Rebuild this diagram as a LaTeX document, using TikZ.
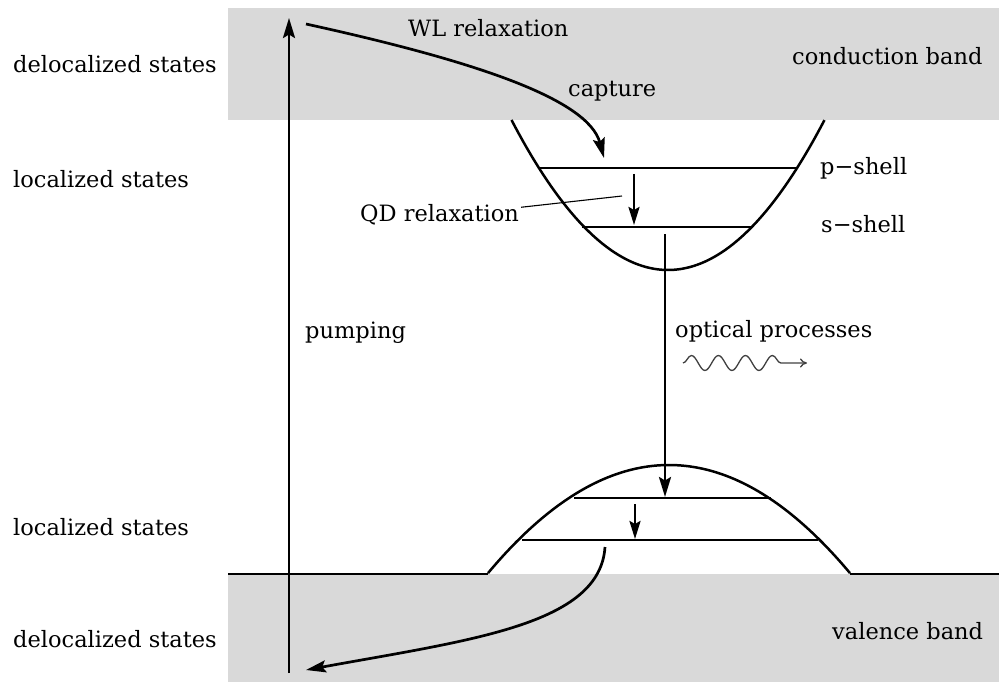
\documentclass[tikz,border=0pt]{standalone}
\usepackage{fontspec}
\setmainfont{DejaVu Serif}
\usetikzlibrary{arrows.meta,decorations.pathmorphing}
\definecolor{bandgray}{RGB}{217,217,217}
\tikzset{
  lbl/.style={anchor=base west,inner sep=0pt,font=\fontsize{22.5}{27}\selectfont},
  level/.style={line width=2.9pt},
  curveline/.style={line width=2.5pt},
  bigarrow/.style={line width=2.7pt,-{Stealth[length=20pt,width=12pt,inset=3.5pt]}},
  smallarrow/.style={line width=2.7pt,-{Stealth[length=18pt,width=11pt,inset=3pt]}},
}
\begin{document}
\begin{tikzpicture}[x=1pt,y=-1pt]
\useasboundingbox (0,0) rectangle (999,682);
% bands
\fill[bandgray] (228,8) rectangle (999,120);
\fill[bandgray] (228,574) rectangle (999,682);
% band edge line with valence dome
\draw[line width=2pt] (228,574) -- (488,574);
\draw[line width=2pt] (850,574) -- (999,574);
\draw[curveline] plot[domain=-1.81:1.81,samples=80] ({669+100*\x},{465+33*\x*\x});
% conduction QD parabola
\draw[curveline] plot[domain=-1.565:1.565,samples=80] ({668+100*\x},{270-61.25*\x*\x});
% levels
\coordinate (pL) at (540,168); \coordinate (pR) at (796,168);
\coordinate (sL) at (582,227); \coordinate (sR) at (752,227);
\coordinate (v1L) at (574,498); \coordinate (v1R) at (771,498);
\coordinate (v2L) at (522,540); \coordinate (v2R) at (818,540);
\draw[level] (pL) -- (pR);
\draw[level] (sL) -- (sR);
\draw[level] (v1L) -- (v1R);
\draw[level] (v2L) -- (v2R);
% pumping
\coordinate (pumpA) at (289,673); \coordinate (pumpB) at (289,18);
\draw[bigarrow] (pumpA) -- (pumpB);
% WL relaxation / capture
\coordinate (wlA) at (306,24); \coordinate (wlB) at (604,158);
\draw[bigarrow] (wlA) .. controls (470,60) and (588,98) .. (wlB);
% QD relaxation arrow
\coordinate (qrA) at (634,174); \coordinate (qrB) at (634,225);
\draw[smallarrow] (qrA) -- (qrB);
% optical
\coordinate (opA) at (665,234); \coordinate (opB) at (665,497);
\draw[bigarrow] (opA) -- (opB);
% valence relaxation
\coordinate (vrA) at (635,504); \coordinate (vrB) at (635,539);
\draw[smallarrow] (vrA) -- (vrB);
% escape to valence band
\coordinate (esA) at (605,547); \coordinate (esB) at (306,670);
\draw[bigarrow] (esA) .. controls (600,625) and (470,640) .. (esB);
% wave
\coordinate (wvA) at (683,363); \coordinate (wvB) at (807,363);
\draw[black!75,line width=1.3pt,decorate,decoration={snake,amplitude=7.5pt,segment length=27pt,post length=20pt},-{To[length=7pt,width=9pt]}] (wvA) -- (wvB);
% labels
\node[lbl] (dtop) at (13,73) {delocalized states};
\node[lbl] (ltop) at (13,187) {localized states};
\node[lbl] (lbot) at (13,535) {localized states};
\node[lbl] (dbot) at (13,647) {delocalized states};
\node[lbl] (cb) at (792,65) {conduction band};
\node[lbl] (vb) at (832,639) {valence band};
\node[lbl] (pump) at (305,338) {pumping};
\node[lbl] (opt) at (675,337) {optical processes};
\node[lbl] (qd) at (360,222) {QD relaxation};
\node[lbl] (wl) at (408,37) {WL relaxation};
\node[lbl] (cap) at (568,97) {capture};
\node[lbl] (ps) at (820,175) {p−shell};
\node[lbl] (ss) at (821,233) {s−shell};
% leader
\coordinate (ldB) at (622,196);
\draw[line width=1.1pt] (qd.east) ++(2,-8) -- (ldB);
\end{tikzpicture}
\end{document}
